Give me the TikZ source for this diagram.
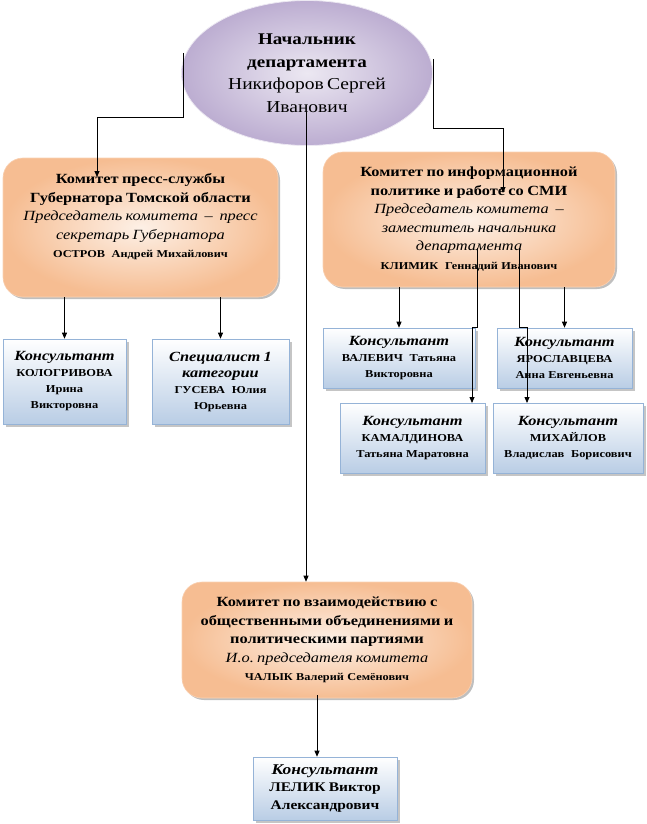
\documentclass[tikz,border=0pt]{standalone}
\usepackage{fontspec}
\setmainfont{Liberation Serif}[FakeStretch=1.17]
\usetikzlibrary{positioning,shapes.geometric,shadows,arrows.meta}

\definecolor{bossLight}{HTML}{ECE8F2}
\definecolor{bossDark}{HTML}{BCADD1}
\definecolor{comLight}{HTML}{FDF0E6}
\definecolor{comDark}{HTML}{F6BD92}
\definecolor{cellBlue}{HTML}{B9CDE5}
\definecolor{cellEdge}{HTML}{95B3D7}

\newcommand{\bossfont}[1]{\fontsize{#1}{22.5}\selectfont}
\newcommand{\comfont}[1]{\fontsize{#1}{18.5}\selectfont}
\newcommand{\cellfont}[1]{\fontsize{#1}{16}\selectfont}

\tikzset{
  boss/.style={ellipse, inner sep=0pt, minimum width=251pt, minimum height=145pt,
    inner color=bossLight, outer color=bossDark, draw=bossLight, line width=0.8pt,
    text width=172pt, align=center},
  combox/.style={rectangle, rounded corners=20pt, inner color=comLight, outer color=comDark,
    draw=comDark!70!white, line width=0.6pt,
    drop shadow={shadow xshift=2pt, shadow yshift=-2pt, fill=black, opacity=0.25}},
  comtext/.style={inner sep=0pt, align=center},
  cell/.style={rectangle, draw=cellEdge, line width=0.6pt, top color=white, bottom color=cellBlue,
    drop shadow={shadow xshift=2.5pt, shadow yshift=-2.5pt, fill=black!45},
    inner sep=1pt, align=center},
  link/.style={line width=0.8pt, ->}
}

\begin{document}
\begin{tikzpicture}[x=1pt, y=-1pt, >={Triangle[length=6pt, width=5pt]}]
    \useasboundingbox (0,0) rectangle (646,824);

    % Head of department
    \node[boss] (boss) at (307,73) {\bossfont{16.3}\bfseries Начальник\\департамента\\\bossfont{16.7}\mdseries Никифоров~Сергей\\Иванович\par};

    % Committees
    \node[combox, minimum width=275pt, minimum height=139pt] (press) at (140.5,227.5) {};
    \node[comtext, text width=265pt, below=16pt of press.north] (pressT) {\comfont{14}\bfseries Комитет пресс-службы\\Губернатора~Томской~области\\\mdseries\itshape Председатель~комитета~~–~~пресс\\секретарь Губернатора\\\upshape\bfseries\comfont{10.5}ОСТРОВ~~Андрей~Михайлович\par};

    \node[combox, minimum width=292pt, minimum height=135pt] (info) at (469,219.5) {};
    \node[comtext, text width=282pt, below=15pt of info.north] (infoT) {\comfont{14}\bfseries Комитет~по~информационной\\политике~и~работе~со~СМИ\\\mdseries\itshape Председатель~комитета~~–\\заместитель начальника\\департамента\\\upshape\bfseries\comfont{10.5}КЛИМИК~~Геннадий~Иванович\par};

    \node[combox, minimum width=290pt, minimum height=116pt] (social) at (327,640) {};
    \node[comtext, text width=280pt, below=15pt of social.north] (socialT) {\comfont{14}\bfseries Комитет~по~взаимодействию~с\\общественными~объединениями~и\\политическими партиями\\\mdseries\itshape И.о.~председателя~комитета\\\upshape\bfseries\comfont{10.5}ЧАЛЫК~Валерий~Семёнович\par};

    % Staff
    \node[cell, text width=121pt, minimum height=85pt] (kolog) at (64.5,381.5) {\cellfont{14}\bfseries\itshape Консультант\\\upshape\cellfont{10.6}КОЛОГРИВОВА\\Ирина\\Викторовна\par};
    \node[cell, text width=135pt, minimum height=85pt] (guseva) at (220.5,381.5) {\cellfont{14}\bfseries\itshape Специалист~1\\категории\\\upshape\cellfont{10.6}ГУСЕВА~~Юлия\\Юрьевна\par};
    \node[cell, text width=150pt, minimum height=60pt] (valev) at (399,358) {\cellfont{14}\bfseries\itshape Консультант\\\upshape\cellfont{10.6}ВАЛЕВИЧ~~Татьяна\\Викторовна\par};
    \node[cell, text width=133pt, minimum height=60pt] (yarosl) at (564.5,358) {\cellfont{14}\bfseries\itshape Консультант\\\upshape\cellfont{10.6}ЯРОСЛАВЦЕВА\\Анна~Евгеньевна\par};
    \node[cell, text width=143pt, minimum height=70pt] (kamal) at (412.5,438) {\cellfont{14}\bfseries\itshape Консультант\\\upshape\cellfont{10.6}КАМАЛДИНОВА\\Татьяна~Маратовна\par};
    \node[cell, text width=148pt, minimum height=70pt] (mikh) at (568,438) {\cellfont{14}\bfseries\itshape Консультант\\\upshape\cellfont{10.6}МИХАЙЛОВ\\Владислав~~Борисович\par};
    \node[cell, text width=142pt, minimum height=63pt] (lelik) at (325,788.5) {\fontsize{14.9}{17.5}\selectfont\bfseries\itshape Консультант\\\upshape\fontsize{13.2}{17.5}\selectfont ЛЕЛИК~Виктор\\Александрович\par};

    % Connectors
    \coordinate (bossL) at (183,53);
    \coordinate (pressIn) at (97,177);
    \coordinate (bossR) at (433,59);
    \coordinate (infoIn) at (503,193);
    \coordinate (bossS) at (306,112);
    \coordinate (infoA) at (477,248);
    \coordinate (infoB) at (519,248);
    \coordinate (kamalIn) at (472,403);
    \coordinate (mikhIn) at (527,403);
    \coordinate (socialOut) at (317,695);

    \draw[link] (bossL) -- ++(0,64) -| (pressIn);
    \draw[link] (bossR) -- ++(0,69) -| (infoIn);
    \draw[link] (bossS) -- (bossS |- social.north);

    \draw[link] (kolog.north |- press.south) -- (kolog.north);
    \draw[link] (guseva.north |- press.south) -- (guseva.north);
    \draw[link] (valev.north |- info.south) -- (valev.north);
    \draw[link] (yarosl.north |- info.south) -- (yarosl.north);
    \draw[link] (infoA) -- (infoA |- valev.north) -| (kamalIn);
    \draw[link] (infoB) -- (infoB |- yarosl.north) -| (mikhIn);

    \draw[link] (socialOut) -- (socialOut |- lelik.north);
\end{tikzpicture}
\end{document}
